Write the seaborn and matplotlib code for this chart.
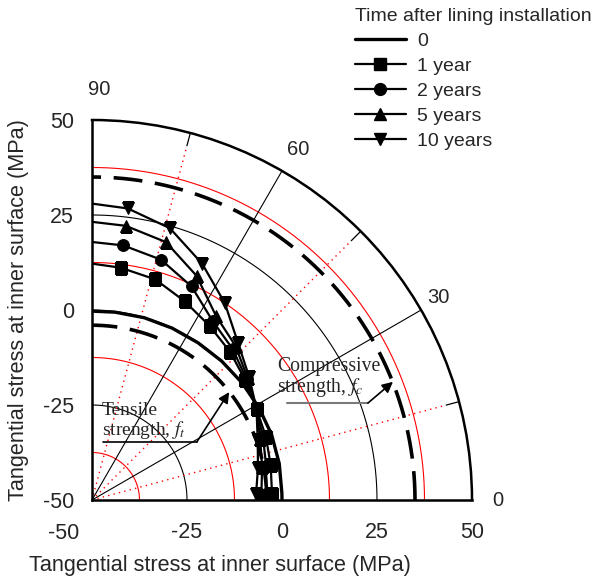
import numpy as np
import matplotlib
matplotlib.use("Agg")
import matplotlib.pyplot as plt
from matplotlib.lines import Line2D
import seaborn as sns

sns.set_style("white")
plt.rcParams["font.family"] = ["Liberation Sans", "DejaVu Sans"]
plt.rcParams["mathtext.fontset"] = "stix"

# Angular position around the lining (degrees) and tangential stress (MPa)
angles_deg = [90, 83, 74, 65, 56, 47, 38, 29, 20, 11, 2, 0]
stress_0y = [-0.3, -0.2, -0.1, -0.1, -0.1, 0.0, 0.1, 0.2, 0.3, 0.2, 0.0, 0.0]
stress_1y = [12.2, 11.6, 10.4, 7.7, 5.3, 3.3, 1.2, -0.5, -1.3, -2.1, -2.6, -2.6]
stress_2y = [17.9, 17.5, 15.8, 12.0, 6.8, 4.3, 1.6, -0.5, -2.1, -3.3, -4.1, -4.1]
stress_5y = [23.2, 22.7, 20.6, 15.1, 8.4, 5.4, 2.0, -0.5, -2.9, -4.4, -5.4, -5.5]
stress_10y = [28.0, 27.3, 24.4, 18.6, 12.5, 6.4, 2.5, -0.5, -3.6, -5.5, -6.8, -6.9]

series_labels = ["0", "1 year", "2 years", "5 years", "10 years"]
series_values = [stress_0y, stress_1y, stress_2y, stress_5y, stress_10y]
series_markers = [None, "s", "o", "^", "v"]

compressive_strength = 35.0
tensile_strength = -4.0

r_ticks = [-50, -25, 0, 25, 50]
theta_ticks = [0, 30, 60, 90]

W, H = 600, 586
fig = plt.figure(figsize=(W / 100, H / 100), dpi=100)
L, B, S = 92, 500, 380
rect = [L / W, (H - B) / H, S / W, S / H]

# ---- polar quadrant -------------------------------------------------------
ax = fig.add_axes(rect, projection="polar")
ax.set_thetamin(0)
ax.set_thetamax(90)
ax.set_rlim(-50, 50)
ax.grid(False)
ax.set_xticks([])
ax.set_yticks([])
for name in ["polar", "start", "end"]:
    ax.spines[name].set_linewidth(1.8)
    ax.spines[name].set_color("black")

arc = np.linspace(0, np.pi / 2, 300)
for r in [-25, 0, 25]:
    ax.plot(arc, np.full_like(arc, r), color="black", lw=0.8, zorder=1)
for r in [-37.5, -12.5, 12.5, 37.5]:
    ax.plot(arc, np.full_like(arc, r), color="red", lw=0.8, zorder=1)
for a in [30, 60]:
    ax.plot([np.deg2rad(a)] * 2, [-50, 50], color="black", lw=0.8, zorder=1)
for a in [15, 45, 75]:
    ax.plot([np.deg2rad(a)] * 2, [-50, 46.5], color="red", lw=1.0,
            ls=(0, (1, 3)), zorder=1)
    ax.plot([np.deg2rad(a)] * 2, [46.5, 50], color="black", lw=0.9, zorder=1)

# strength envelopes
for s in [compressive_strength, tensile_strength]:
    ax.plot(arc, np.full_like(arc, s), color="black", lw=2.6,
            ls=(0, (8, 3.5)), zorder=2)

theta = np.deg2rad(angles_deg)
for lab, vals, mk in zip(series_labels, series_values, series_markers):
    if mk is None:
        sns.lineplot(x=theta, y=vals, ax=ax, sort=False, color="black",
                     lw=2.4, zorder=3)
    else:
        sns.lineplot(x=theta, y=vals, ax=ax, sort=False, color="black",
                     lw=1.6, marker=mk, markersize=8.5, markeredgecolor="black",
                     markerfacecolor="black", markevery=slice(1, 11), zorder=4)
ax.set_xlabel("")
ax.set_ylabel("")
ax.set_rlim(-50, 50)

theta_label_pos = {0: (0, 56.8), 30: (30.3, 55.6), 60: (59.6, 57.0),
                   90: (89.0, 58.0)}
for a in theta_ticks:
    t, r = theta_label_pos[a]
    ax.text(np.deg2rad(t), r, str(a), ha="center", va="center",
            fontsize=14.5)

# ---- cartesian overlay for edge scales, labels and notes -------------------
cax = fig.add_axes(rect, facecolor="none")
cax.set_xlim(-50, 50)
cax.set_ylim(-50, 50)
for sp in cax.spines.values():
    sp.set_visible(False)
cax.set_xticks(r_ticks[1:])
cax.set_xticklabels([str(v) for v in r_ticks[1:]])
cax.set_yticks(r_ticks)
cax.set_yticklabels([str(v) for v in r_ticks])
cax.tick_params(axis="x", length=0, pad=16, labelsize=15.5)
cax.tick_params(axis="y", length=0, pad=13, labelsize=15.5)
cax.text(-57.4, -56.0, str(r_ticks[0]), ha="center", va="top", fontsize=15.5)

fig.text(19 / W, 1 - 310 / H, "Tangential stress at inner surface (MPa)",
         rotation=90, ha="center", va="center", fontsize=15.6)
fig.text(220 / W, 1 - 565 / H, "Tangential stress at inner surface (MPa)",
         ha="center", va="center", fontsize=15.6)

serif = ["Liberation Serif", "DejaVu Serif"]
cax.text(-47.4, -34.4, "Tensile\nstrength, $f_t$", ha="left", va="bottom",
         fontsize=14, family=serif, linespacing=1.0)
cax.plot([-47.1, -22.4], [-34.7, -34.7], color="black", lw=1.2)
cax.annotate("", xy=(-13.9, -21.6), xytext=(-22.4, -34.7),
             arrowprops=dict(arrowstyle="-|>", color="black", lw=1.2,
                             mutation_scale=16, shrinkA=0, shrinkB=0))

cax.text(-1.3, -23.4, "Compressive\nstrength, $f_c$", ha="left", va="bottom",
         fontsize=14.2, family=serif, linespacing=1.0)
cax.plot([1.3, 22.6], [-24.5, -24.5], color="#7a7a7a", lw=1.5)
cax.annotate("", xy=(29.2, -18.9), xytext=(22.6, -24.5),
             arrowprops=dict(arrowstyle="-|>", color="black", lw=1.2,
                             mutation_scale=16, shrinkA=0, shrinkB=0))

# ---- legend -----------------------------------------------------------------
handles = []
for mk in series_markers:
    if mk is None:
        handles.append(Line2D([], [], color="black", lw=2.4))
    else:
        handles.append(Line2D([], [], color="black", lw=1.6, marker=mk,
                              markersize=8.5))
fig.legend(handles, series_labels, title="Time after lining installation",
           loc="upper left", bbox_to_anchor=(355 / W, 1 - 8 / H),
           frameon=False, fontsize=14, title_fontsize=14, handlelength=2.6,
           handletextpad=0.6, labelspacing=0.38, borderpad=0,
           borderaxespad=0, alignment="left")

fig.savefig("out.png", dpi=100)
